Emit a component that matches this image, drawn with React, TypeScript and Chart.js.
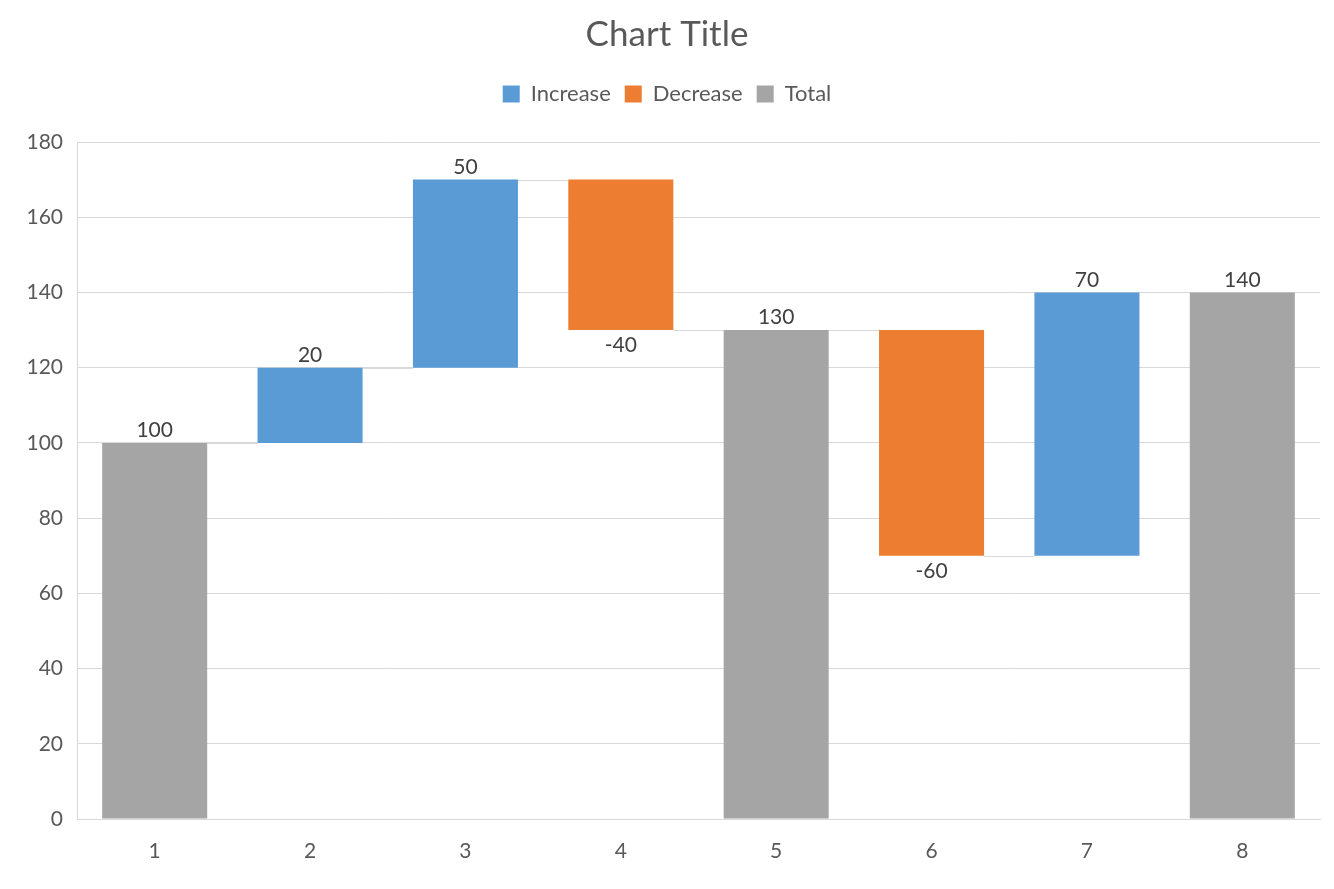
import React, { useEffect, useRef } from "react";
import { Chart, registerables } from "chart.js";

Chart.register(...registerables);

const categories = ["1", "2", "3", "4", "5", "6", "7", "8"];
const increaseValues: (number | null)[] = [null, 20, 50, null, null, null, 70, null];
const decreaseValues: (number | null)[] = [null, null, null, -40, null, -60, null, null];
const totalValues: (number | null)[] = [100, null, null, null, 130, null, null, 140];
const yTicks = { min: 0, max: 180, step: 20 };

const FONT = "Lato, 'Open Sans', sans-serif";
const COLORS = { inc: "#5B9BD5", dec: "#ED7D31", tot: "#A5A5A5" };

function buildRanges() {
  const inc: ([number, number] | null)[] = [];
  const dec: ([number, number] | null)[] = [];
  const tot: ([number, number] | null)[] = [];
  const labels: { v: number; pos: "top" | "bottom" }[] = [];
  const levels: number[] = [];
  let run = 0;
  categories.forEach((_, i) => {
    inc.push(null);
    dec.push(null);
    tot.push(null);
    if (totalValues[i] != null) {
      run = totalValues[i] as number;
      tot[i] = [0, run];
      labels.push({ v: run, pos: "top" });
    } else if (increaseValues[i] != null) {
      const d = increaseValues[i] as number;
      inc[i] = [run, run + d];
      run += d;
      labels.push({ v: d, pos: "top" });
    } else if (decreaseValues[i] != null) {
      const d = decreaseValues[i] as number;
      dec[i] = [run + d, run];
      run += d;
      labels.push({ v: d, pos: "bottom" });
    }
    levels.push(run);
  });
  return { inc, dec, tot, labels, levels };
}

export default function App() {
  const ref = useRef<HTMLCanvasElement | null>(null);
  useEffect(() => {
    document.body.style.margin = "0";
    const { inc, dec, tot, labels, levels } = buildRanges();

    const legendMargin = {
      id: "legendMargin",
      beforeInit(chart: any) {
        const orig = chart.legend.fit;
        chart.legend.fit = function () {
          orig.bind(chart.legend)();
          this.height += 27;
        };
      },
    };

    function findBar(chart: any, i: number) {
      for (let d = 0; d < chart.data.datasets.length; d++) {
        if (chart.data.datasets[d].data[i] != null) {
          return chart.getDatasetMeta(d).data[i];
        }
      }
      return null;
    }

    const waterfall = {
      id: "waterfall",
      beforeDatasetsDraw(chart: any) {
        const ctx = chart.ctx;
        const y = chart.scales.y;
        ctx.save();
        ctx.strokeStyle = "#D9D9D9";
        ctx.lineWidth = 1;
        for (let i = 0; i < categories.length - 1; i++) {
          const a = findBar(chart, i);
          const b = findBar(chart, i + 1);
          if (!a || !b) continue;
          const yy = Math.round(y.getPixelForValue(levels[i])) + 0.5;
          ctx.beginPath();
          ctx.moveTo(a.x + a.width / 2, yy);
          ctx.lineTo(b.x - b.width / 2, yy);
          ctx.stroke();
        }
        ctx.restore();
      },
      afterDatasetsDraw(chart: any) {
        const ctx = chart.ctx;
        ctx.save();
        ctx.fillStyle = "#404040";
        ctx.font = `21px ${FONT}`;
        ctx.textAlign = "center";
        for (let i = 0; i < categories.length; i++) {
          const bar = findBar(chart, i);
          if (!bar) continue;
          const lab = labels[i];
          const top = Math.min(bar.y, bar.base);
          const bottom = Math.max(bar.y, bar.base);
          if (lab.pos === "top") {
            ctx.textBaseline = "bottom";
            ctx.fillText(String(lab.v), bar.x, top - 2);
          } else {
            ctx.textBaseline = "top";
            ctx.fillText(String(lab.v), bar.x, bottom + 5);
          }
        }
        ctx.restore();
      },
    };

    const common = { barPercentage: 0.676, categoryPercentage: 1, borderWidth: 0 };
    const chart = new Chart(ref.current as HTMLCanvasElement, {
      type: "bar",
      data: {
        labels: categories,
        datasets: [
          { label: "Increase", data: inc as any, backgroundColor: COLORS.inc, ...common },
          { label: "Decrease", data: dec as any, backgroundColor: COLORS.dec, ...common },
          { label: "Total", data: tot as any, backgroundColor: COLORS.tot, ...common },
        ],
      },
      options: {
        animation: false,
        responsive: false,
        devicePixelRatio: 1,
        layout: { padding: { left: 14, right: 14, top: 0, bottom: 0 } },
        plugins: {
          title: {
            display: true,
            text: "Chart Title",
            color: "#595959",
            font: { family: FONT, size: 35, weight: "normal" },
            padding: { top: 14, bottom: 13 },
          },
          legend: {
            display: true,
            labels: {
              color: "#595959",
              font: { family: FONT, size: 22 },
              boxWidth: 17,
              boxHeight: 17,
              padding: 14,
            },
          },
          tooltip: { enabled: false },
        },
        scales: {
          x: {
            stacked: true,
            grid: { display: false, drawTicks: false },
            border: { display: true, color: "#D9D9D9" },
            ticks: { color: "#595959", font: { family: FONT, size: 21 }, padding: 20 },
            afterFit: (s: any) => {
              s.height = 70;
            },
          },
          y: {
            stacked: false,
            min: yTicks.min,
            max: yTicks.max,
            grid: { color: "#D9D9D9", drawTicks: false },
            border: { display: true, color: "#D9D9D9" },
            ticks: {
              stepSize: yTicks.step,
              color: "#595959",
              font: { family: FONT, size: 21 },
              padding: 14,
            },
            afterFit: (s: any) => {
              s.width = 63;
            },
          },
        },
      },
      plugins: [legendMargin, waterfall],
    });
    return () => chart.destroy();
  }, []);

  return (
    <div style={{ width: 1334, height: 889, background: "#fff" }}>
      <canvas ref={ref} width={1334} height={889} style={{ display: "block" }} />
    </div>
  );
}
